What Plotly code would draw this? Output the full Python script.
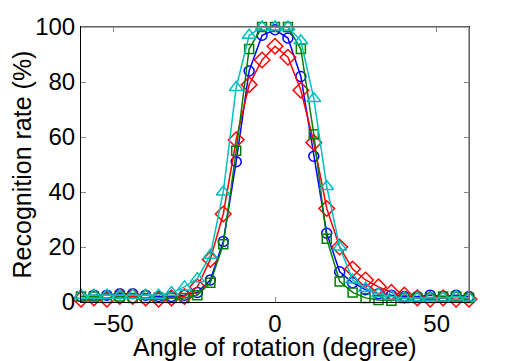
import plotly.graph_objects as go

angles = list(range(-60, 61, 4))

blue_vals = [2, 2.5, 2.5, 3, 3, 2.5, 2, 2, 2.5, 3.5, 8, 22, 51, 84, 97, 99,
             96, 82, 53, 25, 11, 7, 4.5, 3, 2.5, 2, 2, 2.5, 2, 2.5, 2]
red_vals = [1, 1.5, 1, 2, 2, 1.5, 1, 1.5, 2, 5.5, 15.5, 32, 59, 79, 88, 93,
            89, 77, 58, 34, 20, 12, 8, 5.5, 3.5, 2.5, 1.5, 1, 1.5, 1, 1]
green_vals = [2, 2, 1.5, 2, 1.5, 1.5, 1.5, 1.5, 1.5, 2.5, 7, 21, 55, 92, 100, 100,
              100, 92, 61, 23, 7.5, 3.5, 1.5, 0.7, 0.5, 1.5, 1.5, 1.5, 2, 2, 1.5]
cyan_vals = [2.5, 2.5, 2.5, 2.5, 2.5, 2.5, 2.5, 3.5, 5.5, 8.5, 17, 40, 78, 97, 100, 100,
             100, 95, 74, 42, 20, 8, 5, 3, 2, 1.5, 1.5, 1.5, 1.5, 2, 1.5]

x_ticks = [-50, 0, 50]
y_ticks = [0, 20, 40, 60, 80, 100]
x_title = "Angle of rotation (degree)"
y_title = "Recognition rate (%)"

series = [
    (blue_vals, "#0000ff", "circle-open", 10),
    (red_vals, "#ff0000", "diamond-open", 12),
    (green_vals, "#008000", "square-open", 9),
    (cyan_vals, "#00bfbf", "triangle-up-open", 12),
]

fig = go.Figure()
for vals, col, sym, sz in series:
    fig.add_trace(go.Scatter(
        x=angles, y=vals, mode="lines+markers",
        line=dict(color=col, width=1.5),
        marker=dict(symbol=sym, size=sz, color=col, line=dict(color=col, width=1.5)),
        cliponaxis=False, showlegend=False,
    ))

font = dict(family="Liberation Sans, Arial, sans-serif", size=24, color="black")

# page body has an 8px margin, so the figure is sized/offset to compensate
fig.update_layout(
    width=510, height=353,
    margin=dict(l=73, r=49, t=19, b=59),
    paper_bgcolor="white", plot_bgcolor="white",
    font=font,
    xaxis=dict(range=[-60, 60], tickvals=x_ticks, ticks="inside", ticklen=5,
               tickcolor="#888", showgrid=False, zeroline=False, automargin=False,
               showline=True, linecolor="black", linewidth=1, mirror="ticks",
               tickfont=dict(size=24)),
    yaxis=dict(range=[0, 100], tickvals=y_ticks, ticks="inside", ticklen=5,
               tickcolor="#888", showgrid=False, zeroline=False, automargin=False,
               showline=True, linecolor="black", linewidth=1, mirror="ticks",
               title=dict(text=y_title, standoff=2, font=dict(size=25)),
               tickfont=dict(size=24)),
)
fig.add_annotation(text=x_title, xref="paper", yref="paper", x=0.5, y=0,
                   xanchor="center", yanchor="middle", yshift=-45,
                   showarrow=False, font=dict(size=25))
fig.add_shape(type="line", xref="paper", yref="paper", x0=0, x1=1, y0=1, y1=1,
              line=dict(color="#888", width=1.5))
fig.add_shape(type="line", xref="paper", yref="paper", x0=1, x1=1, y0=0, y1=1,
              line=dict(color="#888", width=1.5))

fig.write_html("out.html")
